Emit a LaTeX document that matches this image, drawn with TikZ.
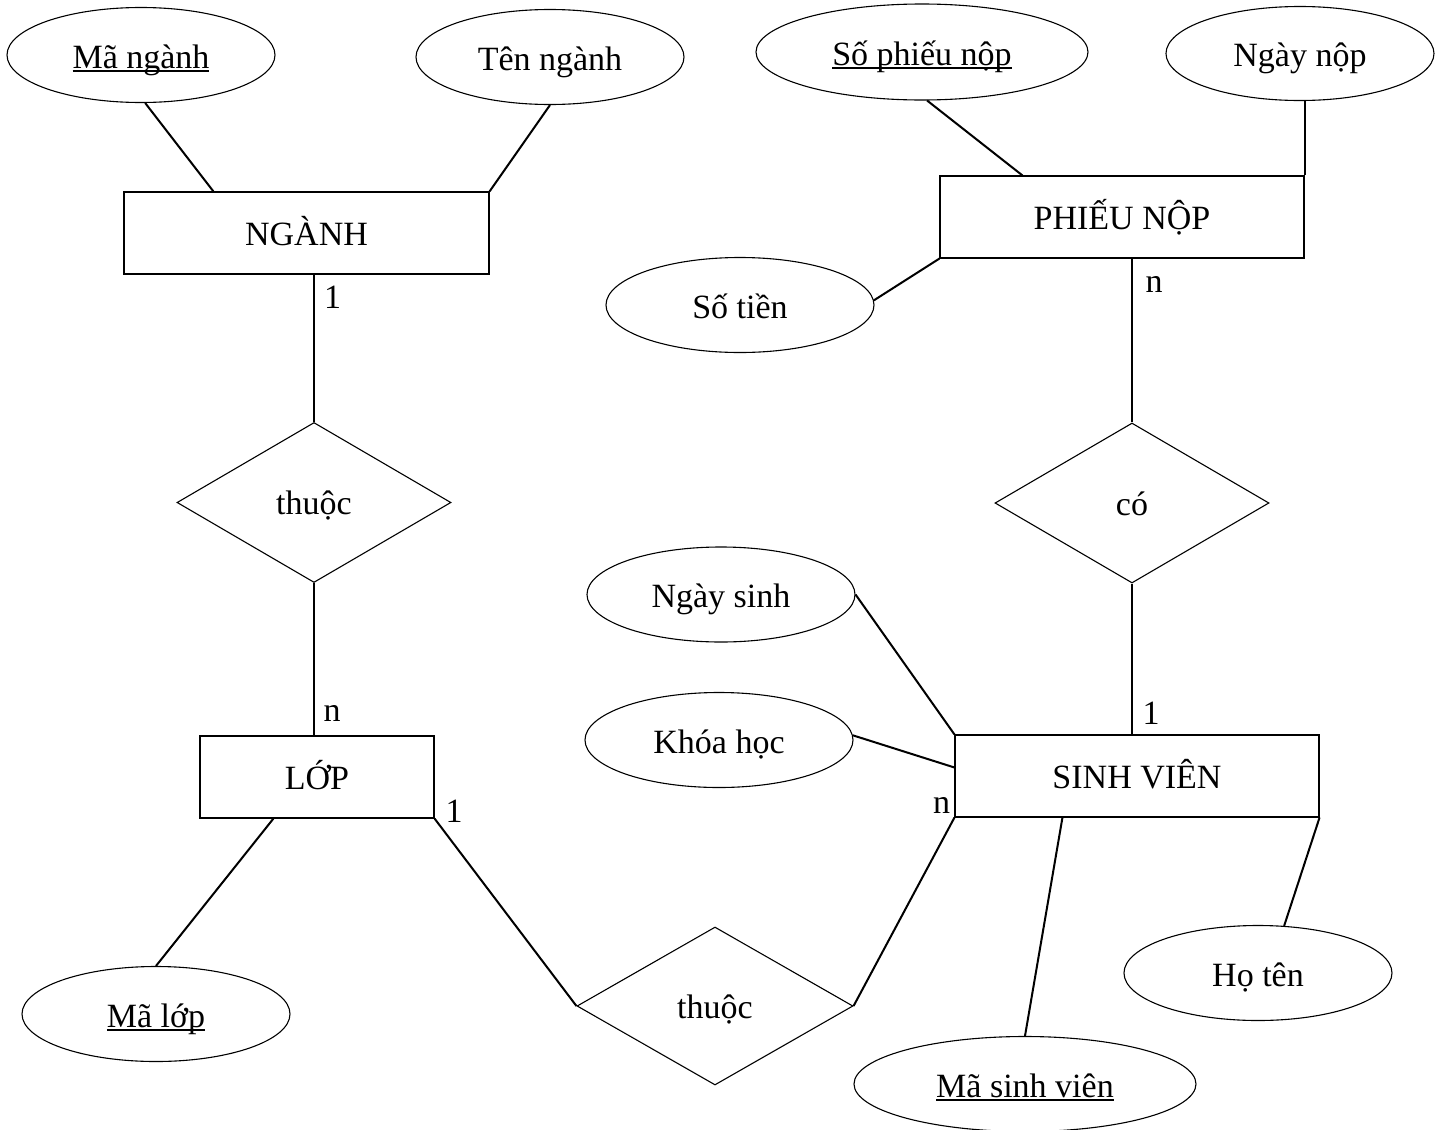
\documentclass[tikz,border=0pt]{standalone}
\usepackage{fontspec}
\setmainfont{Liberation Serif}
\usetikzlibrary{shapes.geometric,calc}

% underlined key attribute, line set just under the baseline
\newcommand{\keyattr}[1]{\setbox0\hbox{#1}\rlap{\rule[-0.115em]{\wd0}{0.06em}}\box0}

\begin{document}
\begin{tikzpicture}[x=0.5pt,y=-0.5pt,
  every node/.style={font=\fontsize{17pt}{20pt}\selectfont},
  shapetext/.style={draw,line width=0.55pt,inner sep=0pt,text depth=0pt},
  attr/.style={shapetext,ellipse,text height=13.3pt,minimum width=134pt,minimum height=47.5pt},
  entity/.style={shapetext,rectangle,text height=12.3pt,minimum height=41pt},
  rel/.style={shapetext,diamond,text height=12.3pt,minimum width=137pt,minimum height=80pt},
  link/.style={line width=1pt},
  card/.style={inner sep=0pt}]
\useasboundingbox (0,0) rectangle (1447,1130);

% attributes
\node[attr] (mn) at (141,55) {\keyattr{Mã ngành}};
\node[attr] (tn) at (550,57) {Tên ngành};
\node[attr,minimum width=166pt,minimum height=48pt] (spn) at (922,52) {\keyattr{Số phiếu nộp}};
\node[attr,minimum height=47pt] (nn) at (1300,53.5) {Ngày nộp};
\node[attr] (st) at (740,305) {Số tiền};
\node[attr] (ns) at (721,594.5) {Ngày sinh};
\node[attr] (kh) at (719,740) {Khóa học};
\node[attr,minimum width=171pt] (msv) at (1025,1084) {\keyattr{Mã sinh viên}};
\node[attr] (ht) at (1258,973) {Họ tên};
\node[attr] (ml) at (156,1014) {\keyattr{Mã lớp}};

% entities
\node[entity,minimum width=182.5pt] (nganh) at (306.5,233) {NGÀNH};
\node[entity,minimum width=182pt] (phieu) at (1122,217) {PHIẾU NỘP};
\node[entity,minimum width=117pt] (lop) at (317,777) {LỚP};
\node[entity,minimum width=182pt] (sv) at (1137,776) {SINH VIÊN};

% relationships
\node[rel] (r1) at (314,502.5) {thuộc};
\node[rel] (co) at (1132,503) {có};
\node[rel,minimum width=138pt,minimum height=79pt] (r2) at (715,1006) {thuộc};

% attribute links
\draw[link] (mn.275) -- ($(nganh.north west)+(90,0)$);
\draw[link] (tn.south) -- (nganh.north east);
\draw[link] (spn.276) -- ($(phieu.north west)+(83,0)$);
\draw[link] (nn.south -| phieu.north east) -- (phieu.north east);
\draw[link] (st.2) -- (phieu.south west);
\draw[link] (ns.east) -- (sv.north west);
\draw[link] (kh.2) -- ($(sv.west)+(0,-8.5)$);
\draw[link] ($(lop.south west)+(74,0)$) -- (ml.north);
\draw[link] ($(sv.south west)+(108,0)$) -- (msv.north);
\draw[link] (sv.south east) -- (ht.61);

% relationship links
\draw[link] (nganh.south -| r1.north) -- (r1.north);
\draw[link] (r1.south) -- (r1.south |- lop.north);
\draw[link] (phieu.south -| co.north) -- (co.north);
\draw[link] (co.south) -- (co.south |- sv.north);
\draw[link] (lop.south east) -- (r2.west);
\draw[link] (r2.east) -- (sv.south west);

% cardinalities
\node[card] (c1) at (332.5,297) {1};
\node[card] (c2) at (332,713.5) {n};
\node[card] (c3) at (454,811) {1};
\node[card] (c4) at (941.5,805.5) {n};
\node[card] (c5) at (1151,713.5) {1};
\node[card] (c6) at (1154,284) {n};
\end{tikzpicture}
\end{document}
